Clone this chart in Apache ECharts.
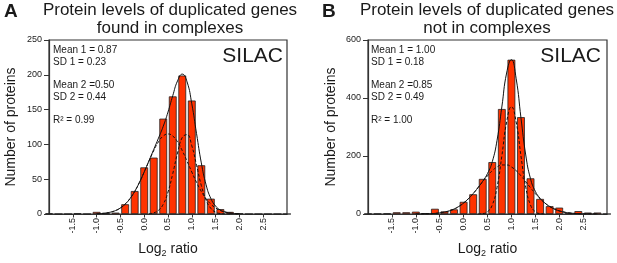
<!DOCTYPE html>
<html>
<head>
<meta charset="utf-8">
<script src="https://cdn.jsdelivr.net/npm/echarts@6/dist/echarts.min.js"></script>
<style>
html, body { margin: 0; padding: 0; background: #fff; }
#main { width: 617px; height: 263px; }
</style>
</head>
<body>
<div id="main"></div>
<script>
// histogram bins (log2 ratio, bin width 0.2)
var binCenters = [-2.0, -1.8, -1.6, -1.4, -1.2, -1.0, -0.8, -0.6, -0.4, -0.2, 0.0, 0.2, 0.4,
                  0.6, 0.8, 1.0, 1.2, 1.4, 1.6, 1.8, 2.0, 2.2, 2.4, 2.6, 2.8, 3.0];
var countsA = [1, 0, 0, 1, 0, 3, 1, 2, 14, 33, 67, 81, 137,
               169, 199, 163, 70, 22, 7, 3, 1, 0, 0, 0, 0, 0];
var countsB = [1, 1, 2, 6, 6, 8, 3, 18, 9, 16, 42, 68, 121,
               179, 362, 532, 334, 123, 52, 27, 22, 4, 10, 5, 5, 0];

var tickLabels = [-1.5, -1.0, -0.5, 0.0, 0.5, 1.0, 1.5, 2.0, 2.5];

// gaussian fit curves (x from -1.0 to 2.0, step 0.1)
var fitXA = [-1.0, -0.9, -0.8, -0.7, -0.6, -0.5, -0.4, -0.3, -0.2, -0.1, 0.0, 0.1, 0.2, 0.3, 0.4, 0.5,
             0.6, 0.7, 0.8, 0.9, 1.0, 1.1, 1.2, 1.3, 1.4, 1.5, 1.6, 1.7, 1.8, 1.9, 2.0];
var fitA1 = [null, null, null, null, null, null, null, null, null, null, null, 0.4, 1.7, 5.3, 14, 31.5,
             58, 87.5, 110, 114, 98, 70, 41, 20, 8.1, 2.7, 0.7, 0.15, 0.03, null, null];
var fitA2 = [0.3, 0.7, 1.5, 2.8, 5.0, 8.7, 14.2, 22, 32.4, 45.4, 60.3, 76, 91, 103.7, 112, 115,
             112, 103.7, 91, 76, 60.3, 45.4, 32.4, 22, 14.2, 8.7, 5.0, 2.8, 1.5, 0.7, 0.3];
var fitASum = [0.3, 0.7, 1.5, 2.8, 5.0, 8.7, 14.2, 22, 32.4, 45.4, 60.4, 76.4, 92.7, 109, 126, 146.5,
               170, 191.2, 201, 190, 158.3, 115.4, 73.4, 42, 22.3, 11.4, 5.7, 2.95, 1.5, 0.7, 0.3];

// gaussian fit curves (x from -1.0 to 2.8, step 0.1)
var fitXB = [-1.0, -0.9, -0.8, -0.7, -0.6, -0.5, -0.4, -0.3, -0.2, -0.1, 0.0, 0.1, 0.2, 0.3, 0.4, 0.5,
             0.6, 0.7, 0.8, 0.9, 1.0, 1.1, 1.2, 1.3, 1.4, 1.5, 1.6, 1.7, 1.8, 1.9, 2.0, 2.1, 2.2,
             2.3, 2.4, 2.5, 2.6, 2.7, 2.8];
var fitB1 = [null, null, null, null, null, null, null, null, null, null, null, null, null, 0.2, 1.4, 7.8,
             31, 92, 200, 317, 370, 317, 200, 92, 31, 7.8, 1.4, 0.2, null, null, null, null, null,
             null, null, null, null, null, null];
var fitB2 = [0.1, 0.3, 0.6, 1.1, 2.1, 3.8, 6.6, 10.8, 17.1, 26, 37.8, 52.7, 70.5, 90.5, 111.5, 131.7,
             149.3, 162.2, 169.1, 169.1, 162.2, 149.3, 131.7, 111.5, 90.5, 70.5, 52.7, 37.8, 26, 17.1, 10.8, 6.6, 3.8,
             2.1, 1.1, 0.6, 0.3, 0.1, 0.05];
var fitBSum = [0.1, 0.3, 0.6, 1.1, 2.1, 3.8, 6.6, 10.8, 17.1, 26, 37.8, 52.7, 70.5, 90.7, 112.9, 139.5,
               180.3, 254.2, 369.1, 486.1, 532.2, 466.3, 331.7, 203.5, 121.5, 78.3, 54.1, 38.0, 26, 17.1, 10.8, 6.6, 3.8,
               2.1, 1.1, 0.6, 0.3, 0.1, 0.05];

var statsA = ['Mean 1 = 0.87', 'SD 1 = 0.23', '', 'Mean 2 =0.50', 'SD 2 = 0.44', '', 'R² = 0.99'];
var statsB = ['Mean 1 = 1.00', 'SD 1 = 0.18', '', 'Mean 2 =0.85', 'SD 2 = 0.49', '', 'R² = 1.00'];

var FONT = '"Liberation Sans", Arial, Helvetica, sans-serif';
var INK = '#1a1a1a';

function pairs(xs, ys) {
    var out = [];
    for (var i = 0; i < xs.length; i++) {
        out.push([xs[i], ys[i] == null ? null : ys[i]]);
    }
    return out;
}

function xAxisFor(idx) {
    return {
        type: 'value', gridIndex: idx, min: -2, max: 3,
        name: '{a|Log}{s|2}{a| ratio}', nameLocation: 'middle', nameGap: 27,
        nameTextStyle: {
            rich: {
                a: { fontFamily: FONT, fontSize: 14, color: INK },
                s: { fontFamily: FONT, fontSize: 9, color: INK, padding: [8, 0, 0, 0] }
            }
        },
        axisLine: { onZero: false, lineStyle: { color: '#333', width: 1.2 } },
        axisTick: { customValues: tickLabels, length: 3.5, lineStyle: { color: '#333' } },
        axisLabel: {
            customValues: tickLabels, rotate: 90, margin: 4,
            fontFamily: FONT, fontSize: 9, color: INK,
            formatter: function (v) { return v.toFixed(1); }
        },
        splitLine: { show: false }
    };
}

function yAxisFor(idx, max, step, gap) {
    return {
        type: 'value', gridIndex: idx, min: 0, max: max, interval: step,
        name: 'Number of proteins', nameLocation: 'middle', nameGap: gap, nameRotate: 90,
        nameTextStyle: { fontFamily: FONT, fontSize: 14, color: INK },
        axisLine: { show: true, onZero: false, lineStyle: { color: '#333', width: 1.2 } },
        axisTick: { show: true, length: 5, lineStyle: { color: '#333' } },
        axisLabel: { margin: 7, fontFamily: FONT, fontSize: 9, color: INK },
        splitLine: { show: false }
    };
}

function barSeries(idx, counts) {
    return {
        type: 'bar', xAxisIndex: idx, yAxisIndex: idx,
        data: pairs(binCenters, counts),
        barWidth: 7.8,
        itemStyle: { color: '#ff3300', borderColor: '#222', borderWidth: 0.8 },
        z: 2
    };
}

function curve(idx, xs, ys, dashed) {
    return {
        type: 'line', xAxisIndex: idx, yAxisIndex: idx,
        data: pairs(xs, ys), smooth: true, symbol: 'none', connectNulls: false,
        lineStyle: { color: '#111', width: 1, type: dashed ? [3, 2] : 'solid' },
        z: 3, silent: true
    };
}

function label(x, y, text, size, opts) {
    opts = opts || {};
    return {
        type: 'text', x: x, y: y, z: 10,
        style: {
            text: text,
            fontFamily: FONT, fontSize: size,
            fontWeight: opts.bold ? 'bold' : 'normal',
            lineHeight: opts.lineHeight || size * 1.15,
            fill: INK,
            textAlign: opts.align || 'left',
            textVerticalAlign: 'top'
        }
    };
}

var chart = echarts.init(document.getElementById('main'));

chart.setOption({
    backgroundColor: '#fff',
    animation: false,
    grid: [
        { left: 49, top: 40, width: 238, height: 177, show: true, borderColor: '#333', borderWidth: 1.2 },
        { left: 368, top: 40, width: 239, height: 177, show: true, borderColor: '#333', borderWidth: 1.2 }
    ],
    xAxis: [xAxisFor(0), xAxisFor(1)],
    yAxis: [yAxisFor(0, 250, 50, 31), yAxisFor(1, 600, 200, 30)],
    series: [
        barSeries(0, countsA),
        curve(0, fitXA, fitA1, true),
        curve(0, fitXA, fitA2, true),
        curve(0, fitXA, fitASum, false),
        barSeries(1, countsB),
        curve(1, fitXB, fitB1, true),
        curve(1, fitXB, fitB2, true),
        curve(1, fitXB, fitBSum, false)
    ],
    graphic: [
        label(4, 1, 'A', 19, { bold: true }),
        label(322, 1, 'B', 19, { bold: true }),
        label(170, 2, 'Protein levels of duplicated genes\nfound in complexes', 17, { align: 'center', lineHeight: 17.5 }),
        label(487, 2, 'Protein levels of duplicated genes\nnot in complexes', 17, { align: 'center', lineHeight: 17.5 }),
        label(53, 44.7, statsA.join('\n'), 10, { lineHeight: 11.67 }),
        label(371, 44.7, statsB.join('\n'), 10, { lineHeight: 11.67 }),
        label(283, 44, 'SILAC', 21, { align: 'right' }),
        label(601, 44, 'SILAC', 21, { align: 'right' })
    ]
});
</script>
</body>
</html>
